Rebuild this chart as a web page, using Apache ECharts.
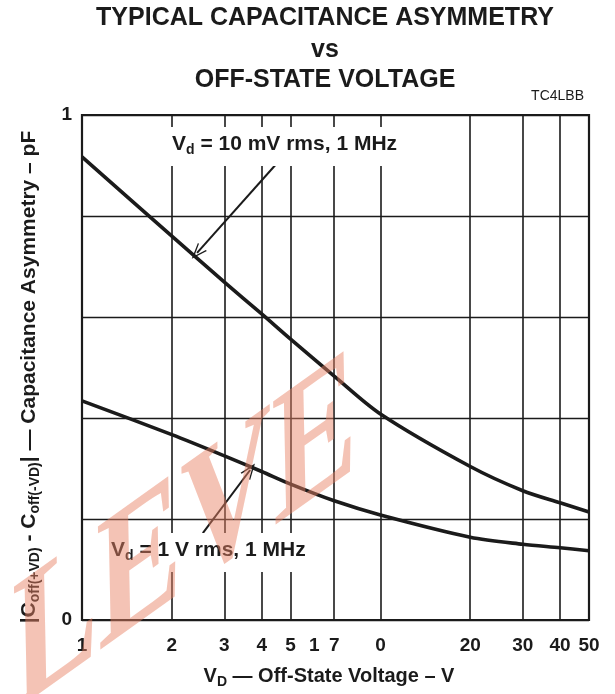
<!DOCTYPE html>
<html>
<head>
<meta charset="utf-8">
<script src="https://cdn.jsdelivr.net/npm/echarts@6/dist/echarts.min.js"></script>
<style>
  html, body { margin: 0; padding: 0; background: #fff; }
  #chart { width: 615px; height: 694px; }
</style>
</head>
<body>
<div id="chart"></div>
<script>
// off-state voltage (V) where the curves were read
var voltage = [1, 2, 3, 4, 5, 7, 10, 20, 30, 40, 50];
// |Coff(+VD) - Coff(-VD)| in pF
var asym10mV = [0.917, 0.760, 0.669, 0.606, 0.556, 0.483, 0.408, 0.304, 0.256, 0.232, 0.214];
var asym1V = [0.434, 0.367, 0.325, 0.294, 0.269, 0.236, 0.208, 0.164, 0.150, 0.143, 0.137];

// vertical grid lines and the printed tick labels
var gridX = [2, 3, 4, 5, 7, 10, 20, 30, 40, 50];
var tickValues = [1, 2, 3, 4, 5, 6, 7, 10, 20, 30, 40, 50];
var tickLabels = ['1', '2', '3', '4', '5', '1', '7', '0', '20', '30', '40', '50'];

// annotation arrows, [from, to] in data units
var arrow10mV = [[4.54, 0.907], [2.43, 0.727]];
var arrow1V = [[2.54, 0.172], [3.66, 0.297]];

var ink = '#1b1b1b';
var font = 'Liberation Sans, Arial, sans-serif';
var chart = echarts.init(document.getElementById('chart'));

var headStyle = 'path://M0,0 L6,13 L4.6,13 L0,3.2 L-4.6,13 L-6,13 Z';

function richText(size, lh) {
    return {
        m: { fontSize: size, fontWeight: 'bold', fontFamily: font, fill: ink, lineHeight: lh },
        s: { fontSize: 14, fontWeight: 'bold', fontFamily: font, fill: ink, lineHeight: 14, verticalAlign: 'bottom' }
    };
}
function titleLine(txt, y) {
    return {
        type: 'text', x: 325, y: y, z: 10,
        style: { text: txt, font: 'bold 25px ' + font, fill: ink, align: 'center', verticalAlign: 'middle' }
    };
}

var option = {
    animation: false,
    backgroundColor: '#fff',
    grid: { left: 82, top: 115, right: 26, bottom: 74, show: true, borderColor: ink, borderWidth: 2.2, backgroundColor: 'transparent' },
    xAxis: {
        type: 'log',
        logBase: 10,
        min: 1,
        max: 50,
        axisLine: { show: false },
        axisTick: { show: false },
        axisLabel: { show: false },
        splitLine: { show: false }
    },
    yAxis: {
        type: 'value',
        min: 0,
        max: 1,
        interval: 0.2,
        axisLine: { show: false },
        axisTick: { show: false },
        axisLabel: {
            margin: 10,
            fontFamily: font, fontSize: 19, fontWeight: 'bold', color: ink,
            formatter: function (v) { return (v === 0 || v === 1) ? String(v) : ''; }
        },
        splitLine: { lineStyle: { color: ink, width: 1.4 } }
    },
    series: [
        {
            // vertical grid and tick labels
            type: 'scatter',
            silent: true,
            symbolSize: 0,
            itemStyle: { opacity: 1 },
            data: tickValues.map(function (v) { return [v, 0]; }),
            label: {
                show: true,
                position: 'bottom',
                distance: 16,
                opacity: 1,
                fontFamily: font, fontSize: 19, fontWeight: 'bold', color: ink,
                formatter: function (p) { return tickLabels[p.dataIndex]; }
            },
            markLine: {
                silent: true,
                symbol: 'none',
                label: { show: false },
                lineStyle: { color: ink, width: 1.6, type: 'solid', opacity: 1 },
                data: gridX.map(function (v) { return { xAxis: v }; })
            },
            z: 1
        },
        {
            name: '10 mV',
            type: 'line',
            smooth: 0.3,
            symbol: 'none',
            lineStyle: { color: ink, width: 3.6 },
            data: voltage.map(function (v, i) { return [v, asym10mV[i]]; }),
            markLine: {
                silent: true,
                symbol: ['none', headStyle],
                symbolSize: [12, 16],
                label: { show: false },
                lineStyle: { color: ink, width: 2, type: 'solid', opacity: 1 },
                data: [[{ coord: arrow10mV[0] }, { coord: arrow10mV[1] }]]
            },
            z: 3
        },
        {
            name: '1 V',
            type: 'line',
            smooth: 0.3,
            symbol: 'none',
            lineStyle: { color: ink, width: 3.6 },
            data: voltage.map(function (v, i) { return [v, asym1V[i]]; }),
            markLine: {
                silent: true,
                symbol: ['none', headStyle],
                symbolSize: [12, 16],
                label: { show: false },
                lineStyle: { color: ink, width: 2, type: 'solid', opacity: 1 },
                data: [[{ coord: arrow1V[0] }, { coord: arrow1V[1] }]]
            },
            z: 3
        }
    ],
    graphic: [
        titleLine('TYPICAL CAPACITANCE ASYMMETRY', 18),
        titleLine('vs', 50),
        titleLine('OFF-STATE VOLTAGE', 80),
        {
            type: 'text', x: 584, y: 96, z: 10,
            style: { text: 'TC4LBB', font: '14px ' + font, fill: ink, align: 'right', verticalAlign: 'middle' }
        },
        {
            // x axis name
            type: 'text', x: 329, y: 676, z: 10,
            style: {
                text: '{m|V}{s|D}{m| — Off-State Voltage – V}',
                align: 'center', verticalAlign: 'middle',
                rich: richText(20, 26)
            }
        },
        {
            // y axis name
            type: 'text', x: 29, y: 377, rotation: Math.PI / 2, z: 10,
            style: {
                text: '{m||C}{s|off(+VD)}{m| - C}{s|off(-VD)}{m|| — Capacitance Asymmetry – pF}',
                align: 'center', verticalAlign: 'middle',
                rich: richText(21, 26)
            }
        },
        {
            type: 'text', left: 168, top: 127, z: 10,
            style: {
                text: '{m|V}{s|d}{m| = 10 mV rms, 1 MHz}',
                backgroundColor: '#fff',
                padding: [4, 4, 9, 4],
                rich: richText(21, 26)
            }
        },
        {
            type: 'text', left: 107, top: 533, z: 10,
            style: {
                text: '{m|V}{s|d}{m| = 1 V rms, 1 MHz}',
                backgroundColor: '#fff',
                padding: [4, 4, 9, 4],
                rich: richText(21, 26)
            }
        },
        {
            // watermark
            type: 'text', x: 185, y: 540, rotation: 0.62, skewX: -0.6, z: 20, silent: true,
            style: {
                text: 'LEVE',
                font: 'bold 155px "Liberation Serif", serif',
                fill: 'rgba(232, 130, 100, 0.48)',
                align: 'center',
                verticalAlign: 'middle'
            }
        }
    ]
};

chart.setOption(option);
</script>
</body>
</html>
